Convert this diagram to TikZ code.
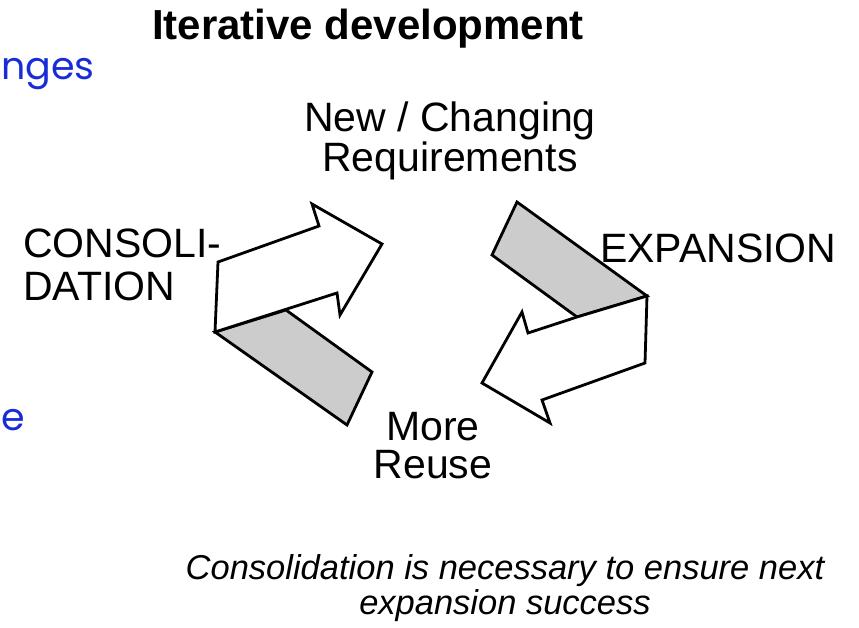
\documentclass[tikz,border=0pt]{standalone}
\usepackage{fontspec}
\setmainfont{Liberation Sans}
\newfontfamily\handfont{Poppins}
\usepackage{tikz}

\definecolor{slideblue}{RGB}{25,45,215}
\definecolor{bandgray}{RGB}{204,204,204}

\tikzset{
  band/.style={draw, line width=2.8pt, fill=bandgray},
  bigarrow/.style={draw, line width=2.8pt, fill=white},
  lbl/.style={inner sep=0pt, font=\fontsize{41}{40}\selectfont, align=center}
}

\begin{document}
\begin{tikzpicture}[x=1pt, y=-1pt]
        \useasboundingbox (0,0) rectangle (859,628);

        % Titulo
        \node[inner sep=0pt, anchor=base, font=\fontsize{42}{42}\selectfont\bfseries] (title) at (368,40) {Iterative development};

        % Restos de texto azul del borde izquierdo
        \node[inner sep=0pt, anchor=base west, text=slideblue, font=\handfont\fontsize{38}{38}\selectfont] (cutA) at (1,80) {nges};
        \node[inner sep=0pt, anchor=base west, text=slideblue, font=\handfont\fontsize{38}{38}\selectfont] (cutB) at (1,430) {e};

        % Flecha de consolidacion (izquierda)
        \draw[band] (215,332) -- (286,310) -- (372,372) -- (347,425) -- cycle;
        \draw[bigarrow] (218,262) -- (319,226) -- (312,204) -- (382,244) -- (340,315) -- (337,293) -- (215,332) -- cycle;

        % Flecha de expansion (derecha)
        \draw[band] (517,202) -- (492,255) -- (577,317) -- (647,296) -- cycle;
        \draw[bigarrow] (647,296) -- (645,363) -- (542,400) -- (550,423) -- (482,383) -- (522,312) -- (528,333) -- (577,317) -- cycle;

        % Etiquetas
        \node[lbl, anchor=base] (req) at (450,172) {New / Changing\\Requirements};
        \node[lbl, anchor=base west, align=left, font=\fontsize{41}{43}\selectfont] (cons) at (23,300) {CONSOLI-\\DATION};
        \node[lbl, anchor=base west] (exp) at (600,263) {EXPANSION};
        \node[lbl, anchor=base, font=\fontsize{41}{38}\selectfont] (reuse) at (433,478) {More\\Reuse};

        % Nota al pie
        \node[inner sep=0pt, anchor=base, align=center, font=\fontsize{34.5}{35}\selectfont\itshape] (note) at (505,614) {Consolidation is necessary to ensure next\\expansion success};
\end{tikzpicture}
\end{document}
